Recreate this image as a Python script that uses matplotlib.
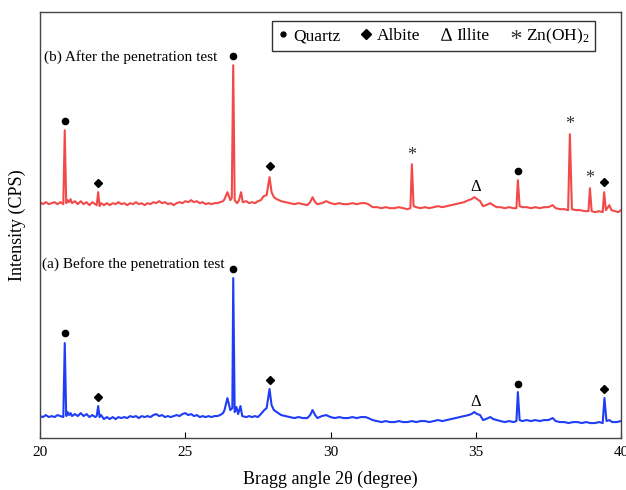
import matplotlib
matplotlib.use("Agg")
import matplotlib.pyplot as plt
from matplotlib.lines import Line2D

plt.rcParams['font.family'] = ['Liberation Serif', 'DejaVu Sans']
plt.rcParams['mathtext.fontset'] = 'custom'
plt.rcParams['mathtext.rm'] = 'Liberation Serif'
plt.rcParams['mathtext.it'] = 'Liberation Serif:italic'

# (b) after the penetration test - red trace (2theta, intensity in arbitrary units)
after_x = [20.0, 20.1, 20.2, 20.3, 20.4, 20.5, 20.6, 20.7, 20.8, 20.85, 20.9, 20.95, 21.0, 21.05,
           21.1, 21.2, 21.3, 21.4, 21.5, 21.6, 21.7, 21.8, 21.9, 21.95, 22.0, 22.05, 22.1, 22.2,
           22.3, 22.4, 22.5, 22.6, 22.7, 22.8, 22.9, 23.0, 23.1, 23.2, 23.3, 23.4, 23.5, 23.6,
           23.7, 23.8, 23.9, 24.0, 24.1, 24.2, 24.3, 24.4, 24.5, 24.6, 24.7, 24.8, 24.9, 25.0,
           25.1, 25.2, 25.3, 25.4, 25.5, 25.6, 25.7, 25.8, 25.9, 26.0, 26.1, 26.2, 26.3, 26.35,
           26.45, 26.55, 26.6, 26.65, 26.7, 26.78, 26.85, 26.92, 26.98, 27.1, 27.2, 27.3, 27.4,
           27.5, 27.6, 27.7, 27.8, 27.9, 27.97, 28.05, 28.15, 28.3, 28.45, 28.6, 28.75, 28.9,
           29.05, 29.2, 29.3, 29.38, 29.47, 29.55, 29.7, 29.85, 30.0, 30.15, 30.3, 30.45, 30.6,
           30.75, 30.9, 31.05, 31.2, 31.3, 31.45, 31.6, 31.75, 31.9, 32.05, 32.2, 32.35, 32.5,
           32.65, 32.75, 32.8, 32.86, 32.95, 33.1, 33.25, 33.4, 33.55, 33.7, 33.85, 34.0, 34.15,
           34.3, 34.45, 34.6, 34.75, 34.85, 34.95, 35.05, 35.15, 35.25, 35.35, 35.5, 35.6, 35.72,
           35.85, 36.0, 36.15, 36.3, 36.4, 36.45, 36.51, 36.6, 36.75, 36.9, 37.05, 37.2, 37.35,
           37.5, 37.65, 37.75, 37.9, 38.05, 38.18, 38.24, 38.31, 38.45, 38.6, 38.75, 38.88, 38.93,
           38.99, 39.1, 39.25, 39.37, 39.42, 39.48, 39.55, 39.6, 39.67, 39.8, 39.9, 40.0]
after_y = [236, 234, 236, 234, 235, 236, 234, 236, 234, 308, 235, 238, 236, 239,
           235, 237, 234, 237, 234, 236, 233, 236, 234, 233, 246, 232, 235, 233,
           235, 233, 235, 234, 236, 234, 235, 233, 235, 234, 236, 234, 235, 233,
           235, 234, 236, 235, 237, 235, 236, 234, 235, 233, 235, 236, 235, 237,
           236, 238, 236, 237, 235, 236, 234, 235, 234, 235, 235, 236, 237, 239,
           246, 238, 240, 373, 238, 235, 238, 246, 236, 237, 235, 236, 235,
           237, 238, 242, 243, 261, 246, 241, 239, 237, 236, 235, 234, 235,
           234, 233, 236, 241, 236, 234, 235, 237, 235, 234, 235, 234, 234,
           235, 234, 235, 235, 234, 231, 231, 230, 231, 230, 230, 231, 230,
           229, 230, 274, 232, 231, 230, 231, 230, 231, 232, 231, 232, 233,
           234, 235, 236, 238, 239, 241, 239, 237, 232, 233, 235, 233, 231,
           231, 230, 231, 230, 230, 258, 232, 231, 231, 230, 231, 230, 231,
           231, 233, 230, 229, 229, 228, 304, 229, 228, 228, 227, 227, 250,
           227, 226, 227, 226, 246, 228, 231, 233, 228, 227, 226, 228]

# (a) before the penetration test - blue trace
before_x = [20.0, 20.1, 20.2, 20.3, 20.4, 20.5, 20.6, 20.7, 20.8, 20.85, 20.9, 20.95, 21.0, 21.05,
            21.1, 21.2, 21.3, 21.4, 21.5, 21.6, 21.7, 21.8, 21.9, 21.95, 22.0, 22.05, 22.1, 22.2,
            22.3, 22.4, 22.5, 22.6, 22.7, 22.8, 22.9, 23.0, 23.1, 23.2, 23.3, 23.4, 23.5, 23.6,
            23.7, 23.8, 23.9, 24.0, 24.1, 24.2, 24.3, 24.4, 24.5, 24.6, 24.7, 24.8, 24.9, 25.0,
            25.1, 25.2, 25.3, 25.4, 25.5, 25.6, 25.7, 25.8, 25.9, 26.0, 26.1, 26.2, 26.3, 26.35,
            26.45, 26.55, 26.62, 26.65, 26.7, 26.76, 26.82, 26.9, 26.96, 27.1, 27.2, 27.3, 27.4,
            27.5, 27.6, 27.72, 27.8, 27.9, 27.97, 28.05, 28.15, 28.3, 28.45, 28.6, 28.75, 28.9,
            29.05, 29.2, 29.3, 29.38, 29.47, 29.55, 29.7, 29.85, 30.0, 30.15, 30.3, 30.45, 30.6,
            30.75, 30.9, 31.05, 31.2, 31.3, 31.45, 31.6, 31.75, 31.9, 32.05, 32.2, 32.35, 32.5,
            32.65, 32.8, 32.95, 33.1, 33.25, 33.4, 33.55, 33.7, 33.85, 34.0, 34.15, 34.3, 34.45,
            34.6, 34.75, 34.85, 34.95, 35.05, 35.15, 35.25, 35.35, 35.5, 35.6, 35.72, 35.85, 36.0,
            36.15, 36.3, 36.4, 36.45, 36.51, 36.6, 36.75, 36.9, 37.05, 37.2, 37.35, 37.5, 37.65,
            37.75, 37.9, 38.05, 38.2, 38.35, 38.5, 38.65, 38.8, 38.95, 39.1, 39.25, 39.37, 39.43,
            39.5, 39.6, 39.7, 39.85, 40.0]
before_y = [22, 21, 23, 21, 22, 21, 23, 22, 21, 95, 22, 26, 23, 25,
            22, 24, 22, 25, 22, 24, 21, 23, 21, 22, 32, 21, 23, 19,
            21, 19, 21, 19, 21, 20, 21, 20, 22, 21, 22, 20, 22, 21,
            22, 21, 23, 24, 22, 23, 21, 22, 21, 22, 23, 22, 24, 25,
            23, 24, 22, 23, 21, 22, 21, 22, 21, 22, 22, 23, 25, 28,
            40, 28, 30, 160, 26, 31, 24, 32, 22, 21, 22, 21, 22,
            21, 24, 28, 30, 49, 33, 28, 26, 23, 22, 21, 20, 21,
            20, 20, 23, 28, 23, 20, 22, 23, 21, 20, 21, 20, 20,
            21, 20, 21, 21, 20, 18, 17, 16, 17, 16, 16, 17, 16,
            16, 17, 16, 17, 17, 16, 17, 18, 17, 18, 19, 20, 21,
            22, 23, 24, 26, 24, 23, 18, 19, 21, 19, 18, 17, 16,
            17, 16, 17, 46, 18, 17, 18, 17, 18, 17, 18, 18, 20,
            17, 16, 16, 15, 16, 16, 15, 16, 15, 15, 16, 15, 40,
            17, 18, 16, 16, 17]

# phase markers above the peaks
after_quartz = ([20.85, 26.65, 36.45], [317, 382, 267])
after_albite = ([22.0, 27.9, 39.42], [255, 272, 256])
after_zn = ([32.8, 38.24, 38.93], [283, 314, 260])
after_illite = ([35.0], [251])
before_quartz = ([20.85, 26.65, 36.45], [105, 169, 54])
before_albite = ([22.0, 27.9, 39.43], [41, 58, 49])
before_illite = ([35.0], [36])

fig = plt.figure(figsize=(6.26, 4.9), dpi=100)
ax = fig.add_axes([0.064, 0.106, 0.928, 0.869])

ax.plot(after_x, after_y, color='#f24a4a', lw=1.5)
ax.plot(before_x, before_y, color='#1f3df5', lw=1.5)

for xs, ys in [after_quartz, before_quartz]:
    ax.plot(xs, ys, 'o', color='black', ms=4.5)
for xs, ys in [after_albite, before_albite]:
    ax.plot(xs, ys, 'D', color='black', ms=4.5)
for x, y in zip(*after_zn):
    ax.text(x, y, '*', ha='center', va='center', fontsize=13, color='#333333')
for xs, ys in [after_illite, before_illite]:
    for x, y in zip(xs, ys):
        ax.text(x, y, 'Δ', ha='center', va='center', fontsize=12)

ax.text(20.15, 381, '(b) After the penetration test', fontsize=11, va='center')
ax.text(20.05, 174, '(a) Before the penetration test', fontsize=11, va='center')

handles = [Line2D([], [], marker='o', color='black', ls='none', ms=3.5),
           Line2D([], [], marker='D', color='black', ls='none', ms=5),
           Line2D([], [], marker='$\\Delta$', color='black', ls='none', ms=9, mew=0),
           Line2D([], [], marker='$*$', color='#333333', ls='none', ms=7, mew=0)]
labels = ['Quartz', 'Albite', 'Illite', 'Zn(OH)$_2$']
leg = ax.legend(handles, labels, ncol=4, loc='upper right', bbox_to_anchor=(0.955, 0.979),
                borderaxespad=0, fontsize=12.5, frameon=True, fancybox=False, handlelength=0.6,
                handletextpad=0.3, columnspacing=1.2, borderpad=0.3)
leg.get_frame().set_edgecolor('black')
leg.get_frame().set_linewidth(1.0)

ax.set_xlim(20, 40)
ax.set_ylim(0, 426)
ax.set_xticks([20, 25, 30, 35, 40])
ax.set_yticks([])
ax.tick_params(axis='x', direction='in', length=4, labelsize=11, pad=6)
for s in ax.spines.values():
    s.set_color('#444444')
    s.set_linewidth(1.0)

ax.set_xlabel('Bragg angle 2θ (degree)', fontsize=13, labelpad=8)
ax.set_ylabel('Intensity (CPS)', fontsize=13, labelpad=10)

fig.savefig('out.png', dpi=100)
